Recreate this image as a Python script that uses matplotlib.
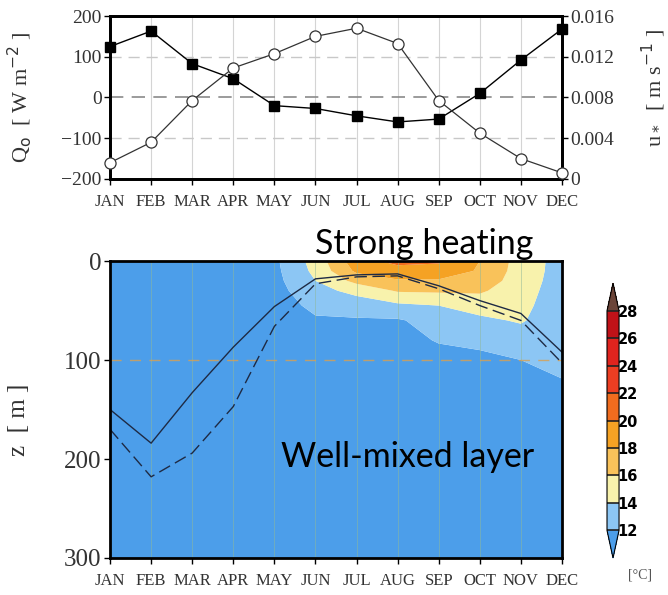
import numpy as np
import matplotlib
matplotlib.use("Agg")
import matplotlib.pyplot as plt
from matplotlib.colors import ListedColormap, BoundaryNorm

# --- data ---
months = ['JAN', 'FEB', 'MAR', 'APR', 'MAY', 'JUN',
          'JUL', 'AUG', 'SEP', 'OCT', 'NOV', 'DEC']

# surface heat flux Q0 [W m-2] (filled squares)
q0 = [125, 163, 83, 46, -20, -27, -45, -60, -53, 10, 92, 168]
# friction velocity u* [m s-1] (open circles)
ustar = [0.0016, 0.0036, 0.0077, 0.0109, 0.0123, 0.0140,
         0.0148, 0.0133, 0.0077, 0.0045, 0.0020, 0.0006]

# mixed layer depth [m], two estimates
mld_solid = [150, 184, 133, 87, 46, 18, 14, 13, 25, 40, 53, 92]
mld_dash = [170, 218, 194, 147, 66, 23, 16, 15, 28, 45, 60, 103]

# temperature [degC] at these depths, one row per depth, one column per month
depths = [0, 10, 20, 30, 45, 60, 80, 100, 125, 150, 300]
temp = [
    [11.0, 10.8, 10.8, 11.0, 11.6, 14.8, 19.2, 20.6, 20.3, 18.0, 15.2, 13.2],
    [11.0, 10.8, 10.8, 11.0, 11.5, 14.5, 18.4, 19.2, 19.1, 17.8, 15.1, 13.2],
    [11.0, 10.8, 10.8, 11.0, 11.4, 14.0, 16.6, 17.8, 17.8, 17.2, 15.0, 13.1],
    [11.0, 10.8, 10.8, 11.0, 11.3, 13.3, 14.6, 16.2, 16.3, 16.3, 14.8, 13.0],
    [11.0, 10.8, 10.8, 11.0, 11.2, 12.4, 12.9, 13.6, 14.0, 14.8, 14.5, 12.9],
    [11.0, 10.8, 10.8, 11.0, 11.1, 11.8, 11.8, 11.8, 12.8, 13.6, 14.2, 12.7],
    [11.0, 10.8, 10.8, 11.0, 11.0, 11.3, 11.3, 11.5, 12.1, 12.4, 13.0, 12.5],
    [11.0, 10.8, 10.8, 11.0, 11.0, 11.0, 11.1, 11.3, 11.5, 11.6, 12.0, 12.3],
    [11.0, 10.8, 10.8, 11.0, 11.0, 11.0, 11.0, 11.1, 11.2, 11.2, 11.5, 11.9],
    [11.0, 10.8, 10.8, 11.0, 11.0, 11.0, 11.0, 11.0, 11.0, 11.0, 11.2, 11.5],
    [11.0, 10.8, 10.8, 11.0, 11.0, 11.0, 11.0, 11.0, 11.0, 11.0, 11.0, 11.0],
]
levels = [12, 14, 16, 18, 20, 22, 24, 26, 28]
shade_colors = ['#8cc6f4', '#f8f2ac', '#f9c25a', '#f5a224', '#f06c1e',
                '#ec3e22', '#e0241e', '#c01218']
under_color = '#4c9eea'
over_color = '#6b4438'

x = np.arange(len(months))
serif = ['Liberation Serif', 'DejaVu Serif']
txt = '#333333'

fig = plt.figure(figsize=(6.68, 5.95), dpi=100)

# --- top panel ---
ax1 = fig.add_axes([0.1647, 0.6992, 0.6766, 0.2739])
ax1.set_xlim(0, 11)
ax1.set_ylim(-200, 200)
for m in range(1, 11):
    ax1.axvline(m, color='#d4d4d4', lw=0.8, zorder=0)
for yv in (-100, 100):
    ax1.axhline(yv, color='#c8c8c8', lw=1.0, ls=(0, (8, 5)), zorder=0)
ax1.axhline(0, color='#8a8a8a', lw=1.2, ls=(0, (8, 5)), zorder=0)
ax1.plot(x, q0, color='black', lw=1.0, marker='s', ms=7,
         mfc='black', mec='black', clip_on=False, zorder=3)
ax1.set_yticks([-200, -100, 0, 100, 200])
ax1.set_xticks(x)
ax1.set_xticklabels(months, family=serif, fontsize=12, color=txt)
for lab in ax1.get_yticklabels():
    lab.set_family(serif)
    lab.set_fontsize(14)
    lab.set_color(txt)
ax1.tick_params(length=4, width=1, pad=2)
ax1.tick_params(axis='x', pad=7)
ax1.set_ylabel(r'Q$_\mathrm{o}$  [ W m$^{-2}$ ]', family=serif, fontsize=16,
               color=txt)
ax1.yaxis.set_label_coords(-0.168, 0.5)
for s in ax1.spines.values():
    s.set_linewidth(2.0)

ax2 = ax1.twinx()
ax2.set_ylim(0, 0.016)
ax2.plot(x, ustar, color=txt, lw=0.9, marker='o', ms=8,
         mfc='white', mec=txt, mew=0.9, clip_on=False, zorder=3)
ax2.set_yticks([0, 0.004, 0.008, 0.012, 0.016])
ax2.set_yticklabels(['0', '0.004', '0.008', '0.012', '0.016'],
                    family=serif, fontsize=14, color=txt)
ax2.tick_params(length=4, width=1, pad=2)
ax2.set_ylabel(r'u$_*$  [ m s$^{-1}$ ]', family=serif, fontsize=16,
               color=txt)
ax2.yaxis.set_label_coords(1.172, 0.56)
for s in ax2.spines.values():
    s.set_linewidth(2.0)

# --- bottom panel ---
ax3 = fig.add_axes([0.1647, 0.0622, 0.6766, 0.4991])
cmap = ListedColormap(shade_colors)
cmap.set_under(under_color)
cmap.set_over(over_color)
norm = BoundaryNorm(levels, cmap.N)
cf = ax3.contourf(x, depths, np.array(temp), levels=levels, cmap=cmap,
                  norm=norm, extend='both', antialiased=True)
for m in range(1, 11):
    ax3.axvline(m, color='#8fb89a', lw=0.6, alpha=0.6)
ax3.axhline(100, color='#d9a050', lw=1.0, ls=(0, (8, 6)), alpha=0.8)
ax3.plot(x, mld_solid, color='#1e2a44', lw=1.0)
ax3.plot(x, mld_dash, color='#1e2a44', lw=1.0, ls=(0, (9, 4)))
ax3.set_xlim(0, 11)
ax3.set_ylim(300, 0)
ax3.set_yticks([0, 100, 200, 300])
ax3.set_xticks(x)
ax3.set_xticklabels(months, family=serif, fontsize=12, color=txt)
for lab in ax3.get_yticklabels():
    lab.set_family(serif)
    lab.set_fontsize(18)
    lab.set_color(txt)
ax3.tick_params(length=4, width=1, pad=2)
ax3.tick_params(axis='x', pad=7)
ax3.set_ylabel('z  [ m ]', family=serif, fontsize=18, color=txt)
ax3.yaxis.set_label_coords(-0.176, 0.465)
for s in ax3.spines.values():
    s.set_linewidth(2.0)

# colorbar
cax = fig.add_axes([0.9087, 0.0622, 0.018, 0.462])
cb = fig.colorbar(cf, cax=cax, extend='both', extendfrac=0.126,
                  drawedges=True, ticks=levels)
cb.outline.set_linewidth(0.8)
cb.dividers.set_color('#222222')
cb.dividers.set_linewidth(1.2)
cax.tick_params(length=0, pad=-1)
for lab in cax.get_yticklabels():
    lab.set_family(['Liberation Sans Narrow', 'DejaVu Sans'])
    lab.set_fontweight('bold')
    lab.set_fontsize(10.5)
fig.text(0.958, 0.034, '[°C]', family=serif, fontsize=10, color='#555555',
         ha='center', va='center')

# annotations
fig.text(0.635, 0.5731, 'Strong heating', family=['Lato', 'DejaVu Sans'],
         fontsize=24.5, ha='center', va='baseline', zorder=10)
fig.text(0.610, 0.2151, 'Well-mixed layer', family=['Lato', 'DejaVu Sans'],
         fontsize=24.5, ha='center', va='baseline', zorder=10)

fig.savefig('out.png', dpi=100)
